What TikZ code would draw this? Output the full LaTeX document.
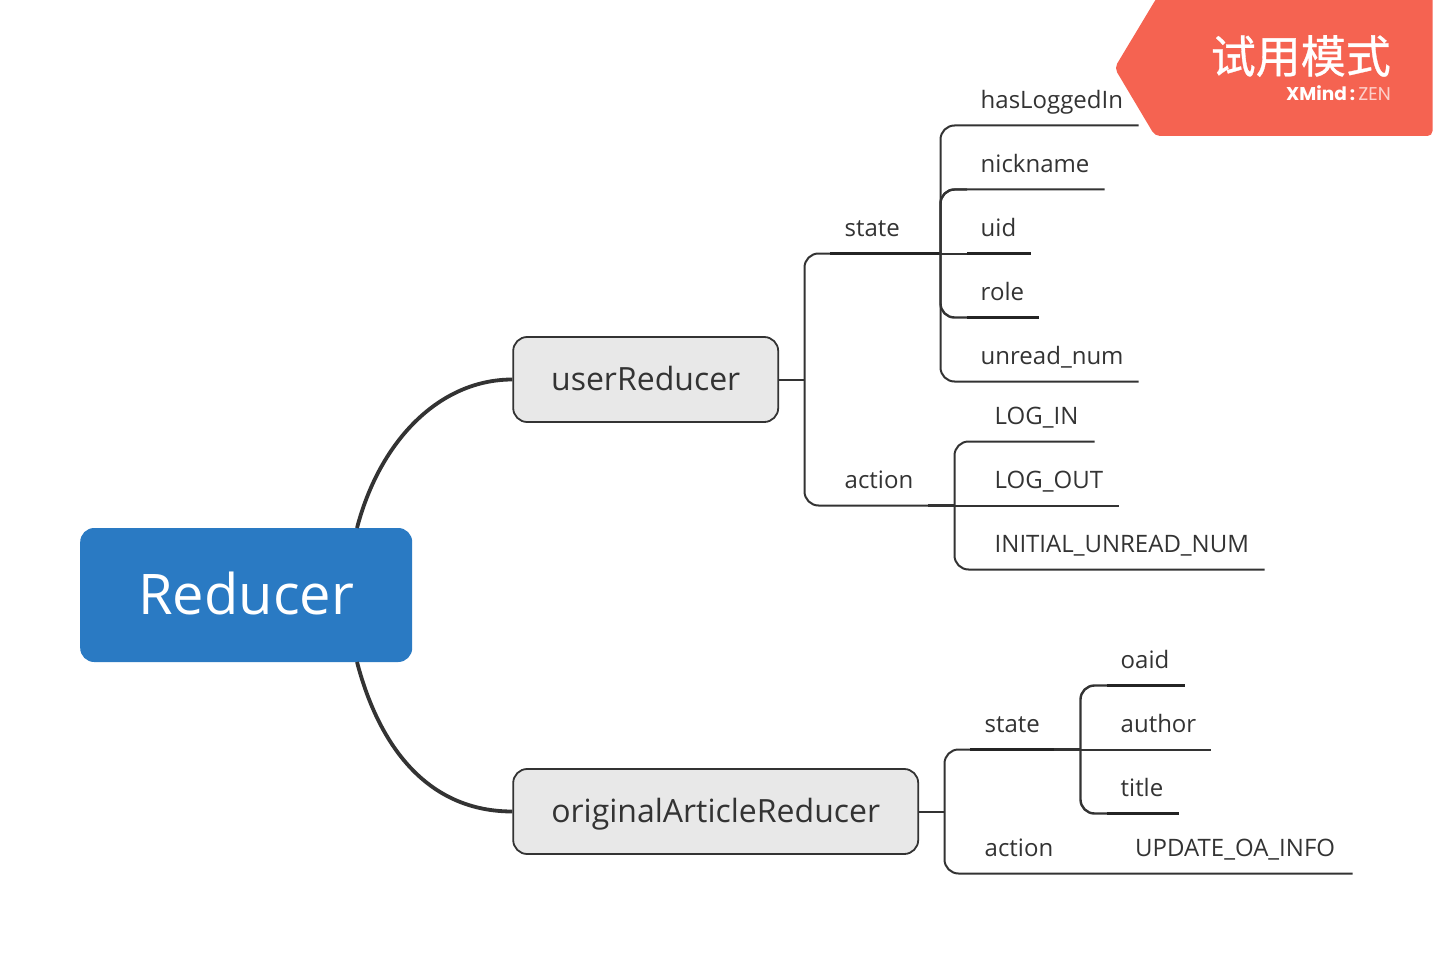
\documentclass[tikz,border=0pt]{standalone}
\usepackage{fontspec}
\setmainfont{Open Sans}
\newfontfamily\cjk[FakeBold=0.7]{Noto Sans CJK SC}
\newfontfamily\pop{Poppins}
\usetikzlibrary{calc}
\definecolor{ink}{HTML}{333333}
\definecolor{txt}{HTML}{333333}
\definecolor{blue1}{HTML}{2A7AC3}
\definecolor{grey1}{HTML}{E8E8E8}
\definecolor{badge}{HTML}{F56351}
\tikzset{
  x=1pt,y=-1pt,
  mainbox/.style={draw=none,fill=blue1,rounded corners=14pt,minimum width=332pt,minimum height=134pt,inner sep=0pt,text=white,text height=45pt,text depth=6pt,font=\fontsize{56}{60}\selectfont},
  subbox/.style={draw=ink,line width=1.8pt,fill=grey1,rounded corners=14pt,minimum height=85pt,inner sep=0pt,text=txt,text height=28.5pt,text depth=7pt,font=\fontsize{32}{36}\selectfont},
  leaf/.style={anchor=base west,inner sep=0pt,text=txt,font=\fontsize{24}{28}\selectfont},
  curve/.style={draw=ink,line width=3.8pt},
  thin/.style={draw=ink,line width=2pt,rounded corners=14pt},
  thick/.style={draw=ink!70!black,line width=3.2pt},
  mid/.style={draw=ink,line width=2.4pt,rounded corners=14pt},
}
\begin{document}
\begin{tikzpicture}
\useasboundingbox (0,0) rectangle (1433,955);
% badge
\begin{scope}
\clip (1100,0) rectangle (1432.5,140);
\fill[badge,rounded corners=5pt] (1159,-6) -- (1114.5,68) -- (1155,136) -- (1432.5,136) -- (1432.5,-6) -- cycle;
\end{scope}
\node[anchor=base east,inner sep=0pt,text=white,font=\cjk\fontsize{45}{50}\selectfont] (trial) at (1391,73) {试用模式};
\node[anchor=base east,inner sep=0pt,text=white,font=\pop\fontsize{18.5}{20}\selectfont] (brand) at (1391,101) {\textbf{XMind\,:\,}\textcolor{white!70!badge}{ZEN}};

% boxes
\node[mainbox] (root) at (246.2,595) {Reducer};
\node[subbox,minimum width=265pt] (user) at (645.7,379.5) {userReducer};
\node[subbox,minimum width=405pt] (orig) at (715.7,811.5) {originalArticleReducer};

% curves
\coordinate (rt) at (357,528);
\coordinate (rb) at (357,662);
\draw[curve] (rt) .. controls (380,440) and (440,379.5) .. (user.west);
\draw[curve] (rb) .. controls (380,750) and (430,811.5) .. (orig.west);

% labels
\node[leaf] (state1) at (844.5,236) {state};
\node[leaf] (action1) at (844.5,488) {action};
\node[leaf] (n1) at (980.5,108.5) {hasLoggedIn};
\node[leaf] (n2) at (980.5,172) {nickname};
\node[leaf] (n3) at (980.5,236) {uid};
\node[leaf] (n4) at (980.5,300) {role};
\node[leaf] (n5) at (980.5,364) {unread\_num};
\node[leaf] (a1) at (994.5,424) {LOG\_IN};
\node[leaf] (a2) at (994.5,488) {LOG\_OUT};
\node[leaf] (a3) at (994.5,552) {INITIAL\_UNREAD\_NUM};
\node[leaf] (state2) at (984.5,732) {state};
\node[leaf] (action2) at (984.5,856) {action};
\node[leaf] (o1) at (1120.5,668) {oaid};
\node[leaf] (o2) at (1120.5,732) {author};
\node[leaf] (o3) at (1120.5,796) {title};
\node[leaf] (u1) at (1135,856) {UPDATE\_OA\_INFO};

% junctions
\coordinate (j1) at (804.5,379.5);
\coordinate (j2) at (940.5,253.5);
\coordinate (j3) at (954.5,505.5);
\coordinate (j4) at (944.5,811.5);
\coordinate (j5) at (1080.5,749.5);
% line ends
\coordinate (es1) at (940.5,253.5);
\coordinate (es1a) at (830,253.5);
\coordinate (ea1) at (954.5,505.5);
\coordinate (ea1a) at (928,505.5);
\coordinate (e1) at (1138.5,125.5);
\coordinate (e2) at (1104.5,189.5);
\coordinate (e3) at (1030.5,253.5);
\coordinate (e3a) at (967,253.5);
\coordinate (e4) at (1038.5,317.5);
\coordinate (e4a) at (967,317.5);
\coordinate (e5) at (1138.5,381.5);
\coordinate (f1) at (1094.5,441.5);
\coordinate (f2) at (1118.5,505.5);
\coordinate (f3) at (1264.5,569.5);
\coordinate (g1) at (1184.5,685.5);
\coordinate (g1a) at (1107,685.5);
\coordinate (g2) at (1210.5,749.5);
\coordinate (g3) at (1178.5,813.5);
\coordinate (g3a) at (1107,813.5);
\coordinate (es2) at (1080.5,749.5);
\coordinate (es2a) at (970,749.5);
\coordinate (es2b) at (1054,749.5);
\coordinate (ea2) at (1352.5,873.5);

% userReducer tree
\draw[thin,rounded corners=0pt] (user.east) -- (j1);
\draw[thin] (es1) -- (804.5,253.5) -- (804.5,505.5) -- (ea1);
\draw[thick] (es1a) -- (es1);
\draw[thin] (e1) -- (940.5,125.5) -- (940.5,381.5) -- (e5);
\draw[thin] (e2) -- (940.5,189.5) -- (940.5,253.5);
\draw[mid] (967,189.5) -- (940.5,189.5) -- (940.5,317.5) -- (e4a);
\draw[thin,rounded corners=0pt] (j2) -- (e3);
\draw[thick] (e3a) -- (e3);
\draw[thick] (e4a) -- (e4);
\draw[thin] (f1) -- (954.5,441.5) -- (954.5,569.5) -- (f3);
\draw[thin,rounded corners=0pt] (j3) -- (f2);
\draw[draw=ink,line width=2.6pt] (ea1a) -- (ea1);

% originalArticleReducer tree
\draw[thin,rounded corners=0pt] (orig.east) -- (j4);
\draw[thin] (es2) -- (944.5,749.5) -- (944.5,873.5) -- (ea2);
\draw[thick] (es2a) -- (es2b);
\draw[draw=ink,line width=2.6pt] (es2b) -- (es2);
\draw[mid] (g1) -- (1080.5,685.5) -- (1080.5,813.5) -- (g3);
\draw[thin,rounded corners=0pt] (j5) -- (g2);
\draw[thick] (g1a) -- (g1);
\draw[thick] (g3a) -- (g3);
\end{tikzpicture}
\end{document}
